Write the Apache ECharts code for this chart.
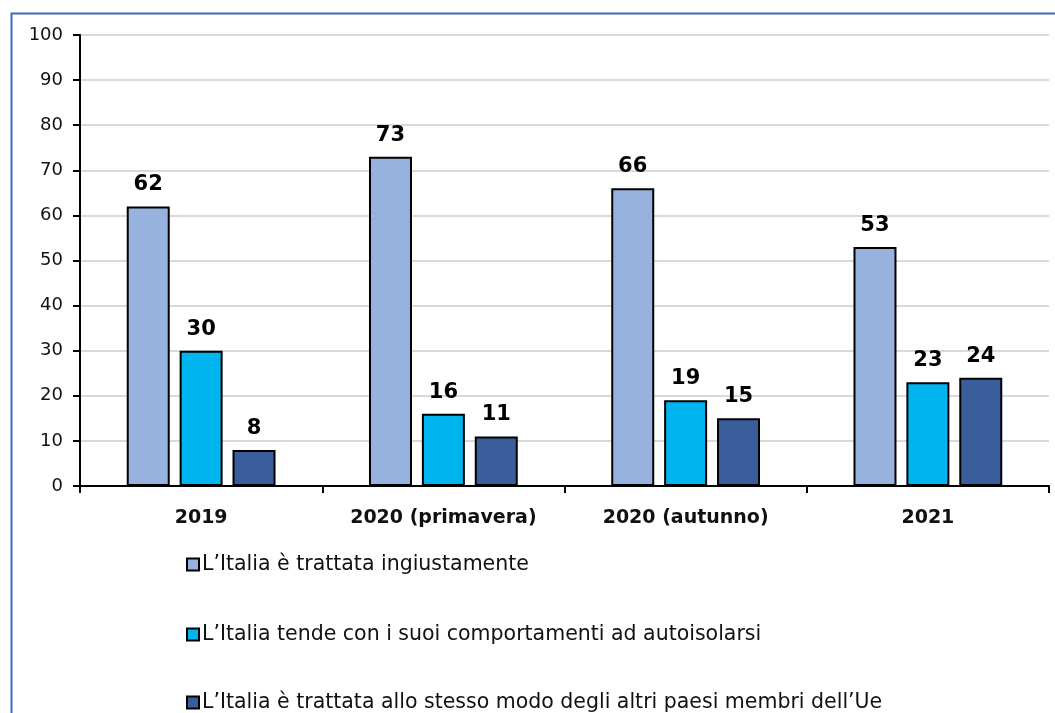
<!DOCTYPE html>
<html>
<head>
<meta charset="utf-8">
<script src="https://cdn.jsdelivr.net/npm/echarts@6/dist/echarts.min.js"></script>
<style>
  html, body { margin: 0; padding: 0; background: #fff; }
  #chart { width: 1055px; height: 713px; }
</style>
</head>
<body>
<div id="chart"></div>
<script>
// Survey periods and share of answers (%)
const categories = ['2019', '2020 (primavera)', '2020 (autunno)', '2021'];
const seriesNames = [
  'L\u2019Italia è trattata ingiustamente',
  'L\u2019Italia tende con i suoi comportamenti ad autoisolarsi',
  'L\u2019Italia è trattata allo stesso modo degli altri paesi membri dell\u2019Ue'
];
const ingiustamente = [62, 73, 66, 53];
const autoisolarsi = [30, 16, 19, 23];
const stessoModo = [8, 11, 15, 24];
const yTicks = [0, 10, 20, 30, 40, 50, 60, 70, 80, 90, 100];

const colors = ['#97B2DE', '#00B5EF', '#3A5E9C'];
const fontFamily = '"DejaVu Sans", sans-serif';

const chart = echarts.init(document.getElementById('chart'), null, { renderer: 'canvas' });

function barSeries(name, data, color) {
  return {
    name: name,
    type: 'bar',
    data: data,
    barWidth: 43,
    barGap: '23%',
    itemStyle: { color: color, borderColor: '#000', borderWidth: 2 },
    label: {
      show: true,
      position: 'top',
      distance: 11,
      color: '#000',
      fontSize: 21,
      fontWeight: 'bold',
      fontFamily: fontFamily
    }
  };
}

// one legend block per entry, stacked vertically under the plot
const legendTops = [549, 619, 687];
const legends = seriesNames.map(function (name, i) {
  return {
    orient: 'vertical',
    left: 181,
    top: legendTops[i],
    itemWidth: 12,
    itemHeight: 12,
    icon: 'rect',
    itemStyle: { borderColor: '#000', borderWidth: 2 },
    textStyle: { fontSize: 20.5, color: '#111', fontFamily: fontFamily, padding: [0, 0, 0, -2] },
    data: [name]
  };
});

chart.setOption({
  animation: false,
  backgroundColor: '#fff',
  color: colors,
  graphic: [{
    type: 'rect',
    shape: { x: 11.5, y: 13.5, width: 1100, height: 800 },
    style: { fill: 'none', stroke: '#4169B8', lineWidth: 2 },
    silent: true,
    z: 0
  }],
  grid: { left: 80, right: 6, top: 35, bottom: 227 },
  legend: legends,
  xAxis: {
    type: 'category',
    data: categories,
    axisLine: { lineStyle: { color: '#000', width: 2 } },
    axisTick: { show: true, length: 7, interval: 0, alignWithLabel: false, lineStyle: { color: '#000', width: 2 } },
    axisLabel: { interval: 0, fontSize: 19, fontWeight: 'bold', color: '#111', margin: 23, fontFamily: fontFamily }
  },
  yAxis: {
    type: 'value',
    min: yTicks[0],
    max: yTicks[yTicks.length - 1],
    interval: 10,
    axisLine: { show: true, lineStyle: { color: '#000', width: 2 } },
    axisTick: { show: true, length: 7, lineStyle: { color: '#000', width: 2 } },
    axisLabel: { fontSize: 18, color: '#111', margin: 17, fontFamily: fontFamily },
    splitLine: { show: true, lineStyle: { color: '#D9D9D9', width: 2 } }
  },
  series: [
    barSeries(seriesNames[0], ingiustamente, colors[0]),
    barSeries(seriesNames[1], autoisolarsi, colors[1]),
    barSeries(seriesNames[2], stessoModo, colors[2])
  ]
});
</script>
</body>
</html>
